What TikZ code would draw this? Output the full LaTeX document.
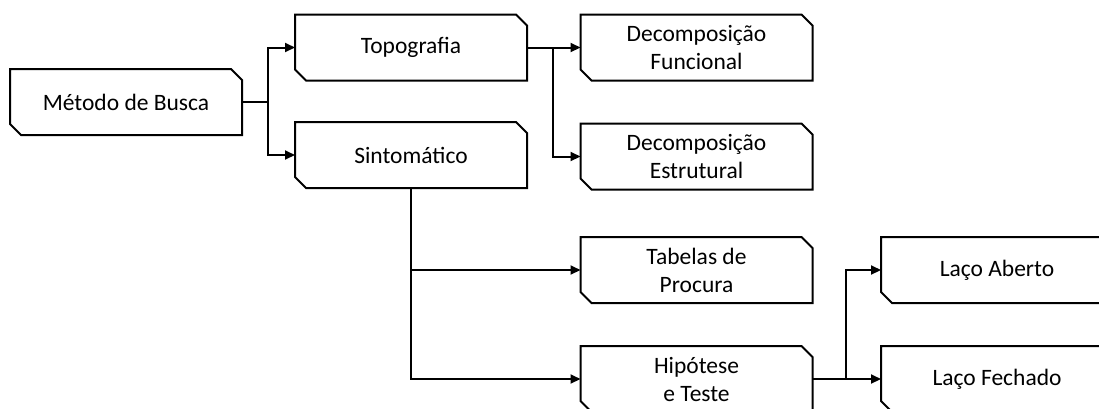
\documentclass[tikz,border=0pt]{standalone}
\usepackage{fontspec}
\setmainfont{Carlito}
\usetikzlibrary{arrows.meta}

\begin{document}
\begin{tikzpicture}[x=1pt,y=-1pt]
\tikzstyle{every node}+=[inner sep=0pt]
\tikzstyle{box}=[rectangle, outer sep=0pt, minimum width=232pt, minimum height=66pt,
  align=center, font=\fontsize{23.5}{28}\selectfont]
\tikzstyle{boxline}=[black, line width=2pt]
\tikzstyle{conn}=[black, line width=2pt]
\tikzstyle{arrow}=[conn, -{Triangle[length=10pt,width=9pt]}]
\useasboundingbox (0,0) rectangle (1099,408);
\clip (0,0) rectangle (1099,408);
% boxes
\node [box] (metodo) at (126,102) {Método de Busca};
\node [box] (topo) at (411,47.5) {Topografia};
\node [box] (sint) at (411,155) {Sintomático};
\node [box] (decfun) at (696.5,47.5) {Decomposição\\Funcional};
\node [box] (decest) at (696.5,156.5) {Decomposição\\Estrutural};
\node [box] (tabelas) at (696.5,270) {Tabelas de\\Procura};
\node [box] (hipotese) at (696.5,379) {Hipótese\\e Teste};
\node [box] (aberto) at (997,270) {Laço Aberto};
\node [box] (fechado) at (997,379) {Laço Fechado};
% cut corners
\foreach \n in {metodo,topo,sint,decfun,decest,tabelas,hipotese,aberto,fechado}
  \draw [boxline] (\n.north west) -- ([xshift=-11pt]\n.north east)
    -- ([yshift=-11pt]\n.north east) -- (\n.south east)
    -- ([xshift=11pt]\n.south west) -- ([yshift=11pt]\n.south west) -- cycle;
% junctions
\coordinate (jmet) at (268,102);
\coordinate (jtopo) at (553,47.5);
\coordinate (jhip) at (846,379);
% connectors
\draw [conn] (metodo.east) -- (jmet);
\draw [arrow] (jmet) |- (topo.west);
\draw [arrow] (jmet) |- (sint.west);
\draw [arrow] (topo.east) -- (decfun.west);
\draw [arrow] (jtopo) |- (decest.west);
\draw [arrow] (sint.south) |- (tabelas.west);
\draw [arrow] (sint.south) |- (hipotese.west);
\draw [arrow] (hipotese.east) -- (fechado.west);
\draw [arrow] (jhip) |- (aberto.west);
\end{tikzpicture}
\end{document}
